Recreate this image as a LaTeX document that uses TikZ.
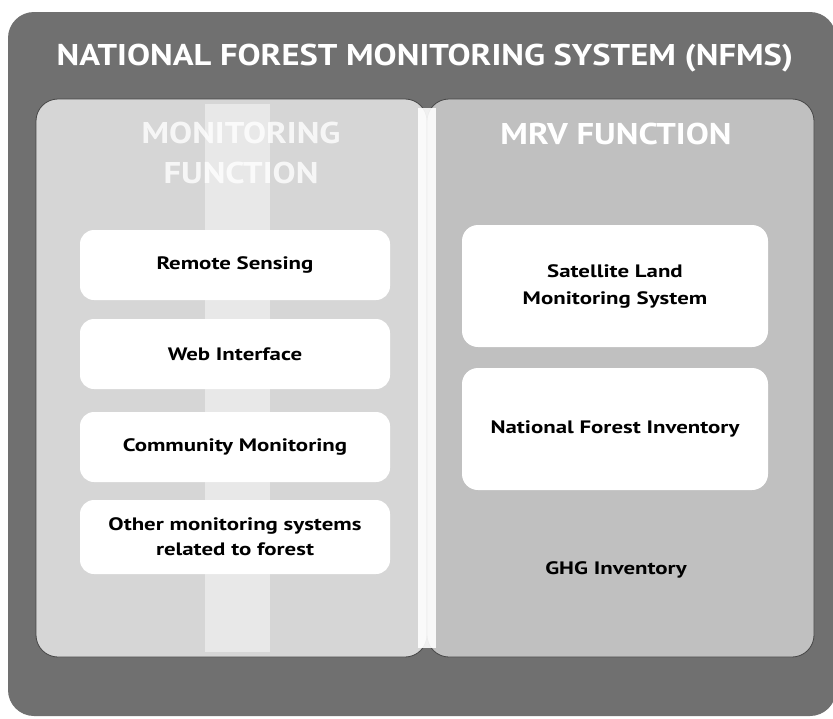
\documentclass[tikz,border=0pt]{standalone}
\usepackage{fontspec}
\setmainfont{PT Sans}
\newfontfamily\boxfont[FakeStretch=1.27]{PT Sans}
\newfontfamily\headfont[FakeStretch=1.15]{PT Sans}
\usepackage{tikz}

\definecolor{framegray}{RGB}{112,112,112}
\definecolor{leftgray}{RGB}{214,214,214}
\definecolor{rightgray}{RGB}{192,192,192}
\definecolor{edgegray}{RGB}{70,70,70}

\tikzset{
  panel/.style={draw=edgegray, line width=0.8pt, rounded corners=22},
  leftbox/.style={fill=white, rounded corners=14, minimum width=310, minimum height=70, font=\boxfont\fontsize{18}{25}\selectfont\bfseries, align=center},
  rightbox/.style={fill=white, rounded corners=16, minimum width=306, minimum height=122, font=\boxfont\fontsize{18}{27}\selectfont\bfseries, align=center},
  headtext/.style={text=white, font=\headfont\fontsize{30}{40}\selectfont\bfseries, align=center, inner sep=0pt},
  plaintext/.style={font=\boxfont\fontsize{18}{25}\selectfont\bfseries, align=center}
}

\begin{document}
\begin{tikzpicture}[x=1pt,y=-1pt]
  \useasboundingbox (0,0) rectangle (833,718);
  \fill[white] (0,0) rectangle (833,718);
  \fill[framegray, rounded corners=26] (8,12) rectangle (836,716);
  \filldraw[panel, fill=leftgray] (36,99) rectangle (427,657);
  \filldraw[panel, fill=rightgray] (427,99) rectangle (814,657);
  \fill[white, opacity=0.45] (205,104) rectangle (270,652);
  \fill[white, opacity=0.9] (418,108) rectangle (436,648);

  \node[headtext] (nfms) at (425,58) {NATIONAL FOREST MONITORING SYSTEM (NFMS)};
  \node[headtext, text opacity=0.8] (monfunc) at (241,153) {MONITORING\\FUNCTION};
  \node[headtext] (mrvfunc) at (616,134) {MRV FUNCTION};

  \node[leftbox] (remote) at (235,265) {Remote Sensing};
  \node[leftbox] (web) at (235,354) {Web Interface};
  \node[leftbox] (community) at (235,447) {Community Monitoring};
  \node[leftbox, minimum height=74] (other) at (235,537) {Other monitoring systems\\related to forest};

  \node[rightbox] (slms) at (615,286) {Satellite Land\\Monitoring System};
  \node[rightbox] (nfi) at (615,429) {National Forest Inventory};
  \node[plaintext] (ghg) at (616,570) {GHG Inventory};
\end{tikzpicture}
\end{document}
